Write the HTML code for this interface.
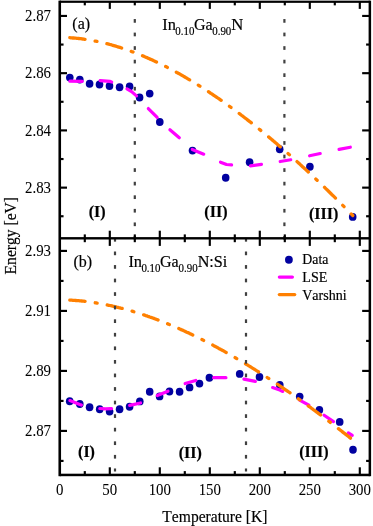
<!DOCTYPE html>
<html><head><meta charset="utf-8"><title>chart</title>
<style>html,body{margin:0;padding:0;background:#fff}body{width:373px;height:526px;overflow:hidden}</style></head>
<body>
<svg width="373" height="526" viewBox="0 0 373 526" style="display:block;will-change:transform;opacity:0.999;font-family:'Liberation Serif',serif;font-kerning:none">
<rect width="373" height="526" fill="#fff"/>
<ellipse cx="69.8" cy="77.60" rx="3.8" ry="3.95" fill="#0000a0"/>
<ellipse cx="79.8" cy="79.60" rx="3.8" ry="3.95" fill="#0000a0"/>
<ellipse cx="89.6" cy="83.80" rx="3.8" ry="3.95" fill="#0000a0"/>
<ellipse cx="99.5" cy="84.50" rx="3.8" ry="3.95" fill="#0000a0"/>
<ellipse cx="109.5" cy="86.00" rx="3.8" ry="3.95" fill="#0000a0"/>
<ellipse cx="119.6" cy="87.20" rx="3.8" ry="3.95" fill="#0000a0"/>
<ellipse cx="129.6" cy="86.40" rx="3.8" ry="3.95" fill="#0000a0"/>
<ellipse cx="139.6" cy="97.50" rx="3.8" ry="3.95" fill="#0000a0"/>
<ellipse cx="149.7" cy="93.60" rx="3.8" ry="3.95" fill="#0000a0"/>
<ellipse cx="159.8" cy="122.00" rx="3.8" ry="3.95" fill="#0000a0"/>
<ellipse cx="192.5" cy="150.60" rx="3.8" ry="3.95" fill="#0000a0"/>
<ellipse cx="225.7" cy="177.70" rx="3.8" ry="3.95" fill="#0000a0"/>
<ellipse cx="249.6" cy="162.30" rx="3.8" ry="3.95" fill="#0000a0"/>
<ellipse cx="279.7" cy="149.20" rx="3.8" ry="3.95" fill="#0000a0"/>
<ellipse cx="309.9" cy="166.80" rx="3.8" ry="3.95" fill="#0000a0"/>
<ellipse cx="352.7" cy="216.90" rx="3.8" ry="3.95" fill="#0000a0"/>
<ellipse cx="69.7" cy="401.30" rx="3.8" ry="3.95" fill="#0000a0"/>
<ellipse cx="79.8" cy="404.00" rx="3.8" ry="3.95" fill="#0000a0"/>
<ellipse cx="89.6" cy="407.20" rx="3.8" ry="3.95" fill="#0000a0"/>
<ellipse cx="99.7" cy="409.30" rx="3.8" ry="3.95" fill="#0000a0"/>
<ellipse cx="109.6" cy="411.60" rx="3.8" ry="3.95" fill="#0000a0"/>
<ellipse cx="119.6" cy="409.20" rx="3.8" ry="3.95" fill="#0000a0"/>
<ellipse cx="129.6" cy="406.70" rx="3.8" ry="3.95" fill="#0000a0"/>
<ellipse cx="139.8" cy="401.40" rx="3.8" ry="3.95" fill="#0000a0"/>
<ellipse cx="149.7" cy="391.80" rx="3.8" ry="3.95" fill="#0000a0"/>
<ellipse cx="159.6" cy="396.40" rx="3.8" ry="3.95" fill="#0000a0"/>
<ellipse cx="169.5" cy="391.50" rx="3.8" ry="3.95" fill="#0000a0"/>
<ellipse cx="179.6" cy="391.70" rx="3.8" ry="3.95" fill="#0000a0"/>
<ellipse cx="189.6" cy="387.40" rx="3.8" ry="3.95" fill="#0000a0"/>
<ellipse cx="199.5" cy="383.60" rx="3.8" ry="3.95" fill="#0000a0"/>
<ellipse cx="209.4" cy="377.80" rx="3.8" ry="3.95" fill="#0000a0"/>
<ellipse cx="239.7" cy="373.90" rx="3.8" ry="3.95" fill="#0000a0"/>
<ellipse cx="259.5" cy="377.00" rx="3.8" ry="3.95" fill="#0000a0"/>
<ellipse cx="279.8" cy="384.90" rx="3.8" ry="3.95" fill="#0000a0"/>
<ellipse cx="299.7" cy="396.60" rx="3.8" ry="3.95" fill="#0000a0"/>
<ellipse cx="319.4" cy="410.00" rx="3.8" ry="3.95" fill="#0000a0"/>
<ellipse cx="339.7" cy="421.90" rx="3.8" ry="3.95" fill="#0000a0"/>
<ellipse cx="353.0" cy="449.80" rx="3.8" ry="3.95" fill="#0000a0"/>
<g fill="none" stroke="#ff00ff" stroke-width="3.2" stroke-linecap="round" stroke-linejoin="round">
<polyline points="69.90,81.21 82.30,81.29"/>
<polyline points="100.19,80.54 109.80,81.40 111.67,81.95"/>
<polyline points="126.97,88.82 131.60,91.60 136.49,95.85"/>
<polyline points="148.33,108.54 157.17,117.46"/>
<polyline points="169.92,129.74 179.28,137.76"/>
<polyline points="192.28,149.42 203.72,154.18"/>
<polyline points="220.49,162.18 226.50,164.50 231.60,164.80"/>
<polyline points="250.39,165.79 261.41,164.31"/>
<polyline points="280.18,161.54 290.72,159.76"/>
<polyline points="309.57,155.77 320.23,153.53"/>
<polyline points="339.07,149.39 350.33,147.21"/>
<polyline points="69.89,400.59 79.80,404.50 81.39,405.06"/>
<polyline points="99.80,408.49 105.50,408.80 111.60,408.64"/>
<polyline points="129.66,405.36 140.54,402.99"/>
<polyline points="157.28,395.50 167.97,391.20"/>
<polyline points="185.14,383.55 195.76,380.45"/>
<polyline points="213.60,377.70 225.90,377.70"/>
<polyline points="243.97,379.11 255.33,381.39"/>
<polyline points="272.61,387.54 279.80,390.10 282.79,391.44"/>
<polyline points="299.60,400.07 308.90,405.13"/>
<polyline points="324.12,415.20 333.48,421.60"/>
<polyline points="348.35,432.86 352.25,435.34"/>
</g>
<polyline points="69.8,37.7 70.8,37.8 71.8,37.9 72.8,38.0 73.8,38.0 74.8,38.1 75.8,38.2 76.8,38.3 77.8,38.4 78.8,38.5 79.8,38.6 80.8,38.7 81.8,38.9 82.8,39.0 83.8,39.1 84.8,39.3 85.8,39.4 86.8,39.6 87.8,39.7 88.8,39.9 89.8,40.1 90.8,40.2 91.8,40.4 92.8,40.6 93.8,40.8 94.8,41.0 95.8,41.2 96.8,41.4 97.8,41.6 98.8,41.8 99.8,42.0 100.8,42.2 101.8,42.5 102.8,42.7 103.8,42.9 104.8,43.2 105.8,43.4 106.8,43.7 107.8,43.9 108.8,44.2 109.8,44.5 110.8,44.7 111.8,45.0 112.8,45.3 113.8,45.6 114.8,45.9 115.8,46.2 116.8,46.5 117.8,46.8 118.8,47.1 119.8,47.4 120.8,47.7 121.8,48.1 122.8,48.4 123.8,48.7 124.8,49.1 125.8,49.4 126.8,49.8 127.8,50.1 128.8,50.5 129.8,50.8 130.8,51.2 131.8,51.6 132.8,51.9 133.8,52.3 134.8,52.7 135.8,53.1 136.8,53.5 137.8,53.9 138.8,54.3 139.8,54.7 140.8,55.1 141.8,55.5 142.8,55.9 143.8,56.3 144.8,56.8 145.8,57.2 146.8,57.6 147.8,58.1 148.8,58.5 149.8,58.9 150.8,59.4 151.8,59.8 152.8,60.3 153.8,60.8 154.8,61.2 155.8,61.7 156.8,62.2 157.8,62.7 158.8,63.1 159.8,63.6 160.8,64.1 161.8,64.6 162.8,65.1 163.8,65.6 164.8,66.1 165.8,66.6 166.8,67.1 167.8,67.7 168.8,68.2 169.8,68.7 170.8,69.2 171.8,69.8 172.8,70.3 173.8,70.8 174.8,71.4 175.8,71.9 176.8,72.5 177.8,73.0 178.8,73.6 179.8,74.1 180.8,74.7 181.8,75.3 182.8,75.8 183.8,76.4 184.8,77.0 185.8,77.6 186.8,78.2 187.8,78.8 188.8,79.4 189.8,80.0 190.8,80.6 191.8,81.2 192.8,81.8 193.8,82.4 194.8,83.0 195.8,83.6 196.8,84.2 197.8,84.9 198.8,85.5 199.8,86.1 200.8,86.7 201.8,87.4 202.8,88.0 203.8,88.7 204.8,89.3 205.8,90.0 206.8,90.6 207.8,91.3 208.8,91.9 209.8,92.6 210.8,93.3 211.8,93.9 212.8,94.6 213.8,95.3 214.8,96.0 215.8,96.6 216.8,97.3 217.8,98.0 218.8,98.7 219.8,99.4 220.8,100.1 221.8,100.8 222.8,101.5 223.8,102.2 224.8,102.9 225.8,103.6 226.8,104.4 227.8,105.1 228.8,105.8 229.8,106.5 230.8,107.3 231.8,108.0 232.8,108.7 233.8,109.5 234.8,110.2 235.8,110.9 236.8,111.7 237.8,112.4 238.8,113.2 239.8,113.9 240.8,114.7 241.8,115.5 242.8,116.2 243.8,117.0 244.8,117.8 245.8,118.5 246.8,119.3 247.8,120.1 248.8,120.9 249.8,121.7 250.8,122.4 251.8,123.2 252.8,124.0 253.8,124.8 254.8,125.6 255.8,126.4 256.8,127.2 257.8,128.0 258.8,128.8 259.8,129.6 260.8,130.4 261.8,131.3 262.8,132.1 263.8,132.9 264.8,133.7 265.8,134.6 266.8,135.4 267.8,136.2 268.8,137.0 269.8,137.9 270.8,138.7 271.8,139.6 272.8,140.4 273.8,141.3 274.8,142.1 275.8,143.0 276.8,143.8 277.8,144.7 278.8,145.5 279.8,146.4 280.8,147.3 281.8,148.1 282.8,149.0 283.8,149.9 284.8,150.7 285.8,151.6 286.8,152.5 287.8,153.4 288.8,154.3 289.8,155.1 290.8,156.0 291.8,156.9 292.8,157.8 293.8,158.7 294.8,159.6 295.8,160.5 296.8,161.4 297.8,162.3 298.8,163.2 299.8,164.1 300.8,165.1 301.8,166.0 302.8,166.9 303.8,167.8 304.8,168.7 305.8,169.7 306.8,170.6 307.8,171.5 308.8,172.4 309.8,173.4 310.8,174.3 311.8,175.2 312.8,176.2 313.8,177.1 314.8,178.1 315.8,179.0 316.8,180.0 317.8,180.9 318.8,181.9 319.8,182.8 320.8,183.8 321.8,184.7 322.8,185.7 323.8,186.7 324.8,187.6 325.8,188.6 326.8,189.6 327.8,190.5 328.8,191.5 329.8,192.5 330.8,193.5 331.8,194.5 332.8,195.4 333.8,196.4 334.8,197.4 335.8,198.4 336.8,199.4 337.8,200.4 338.8,201.4 339.8,202.4 340.8,203.4 341.8,204.4 342.8,205.4 343.8,206.4 344.8,207.4 345.8,208.4 346.8,209.4 347.8,210.4 348.8,211.4 349.8,212.5 350.8,213.5 351.8,214.5 352.8,215.5" fill="none" stroke="#ff8000" stroke-width="3.3" stroke-linecap="round" stroke-linejoin="round" stroke-dasharray="15.35 10.2 1.9 10.2"/>
<polyline points="69.8,300.1 70.8,300.2 71.8,300.2 72.8,300.3 73.8,300.4 74.8,300.4 75.8,300.5 76.8,300.6 77.8,300.7 78.8,300.7 79.8,300.8 80.8,300.9 81.8,301.0 82.8,301.1 83.8,301.2 84.8,301.4 85.8,301.5 86.8,301.6 87.8,301.7 88.8,301.8 89.8,302.0 90.8,302.1 91.8,302.3 92.8,302.4 93.8,302.5 94.8,302.7 95.8,302.9 96.8,303.0 97.8,303.2 98.8,303.4 99.8,303.5 100.8,303.7 101.8,303.9 102.8,304.1 103.8,304.3 104.8,304.5 105.8,304.7 106.8,304.9 107.8,305.1 108.8,305.3 109.8,305.5 110.8,305.7 111.8,305.9 112.8,306.2 113.8,306.4 114.8,306.6 115.8,306.8 116.8,307.1 117.8,307.3 118.8,307.6 119.8,307.8 120.8,308.1 121.8,308.3 122.8,308.6 123.8,308.9 124.8,309.1 125.8,309.4 126.8,309.7 127.8,310.0 128.8,310.2 129.8,310.5 130.8,310.8 131.8,311.1 132.8,311.4 133.8,311.7 134.8,312.0 135.8,312.3 136.8,312.6 137.8,312.9 138.8,313.3 139.8,313.6 140.8,313.9 141.8,314.2 142.8,314.6 143.8,314.9 144.8,315.2 145.8,315.6 146.8,315.9 147.8,316.3 148.8,316.6 149.8,317.0 150.8,317.3 151.8,317.7 152.8,318.0 153.8,318.4 154.8,318.8 155.8,319.2 156.8,319.5 157.8,319.9 158.8,320.3 159.8,320.7 160.8,321.1 161.8,321.5 162.8,321.8 163.8,322.2 164.8,322.6 165.8,323.0 166.8,323.4 167.8,323.9 168.8,324.3 169.8,324.7 170.8,325.1 171.8,325.5 172.8,325.9 173.8,326.4 174.8,326.8 175.8,327.2 176.8,327.7 177.8,328.1 178.8,328.5 179.8,329.0 180.8,329.4 181.8,329.9 182.8,330.3 183.8,330.8 184.8,331.2 185.8,331.7 186.8,332.2 187.8,332.6 188.8,333.1 189.8,333.6 190.8,334.0 191.8,334.5 192.8,335.0 193.8,335.5 194.8,336.0 195.8,336.5 196.8,336.9 197.8,337.4 198.8,337.9 199.8,338.4 200.8,338.9 201.8,339.4 202.8,339.9 203.8,340.5 204.8,341.0 205.8,341.5 206.8,342.0 207.8,342.5 208.8,343.0 209.8,343.6 210.8,344.1 211.8,344.6 212.8,345.1 213.8,345.7 214.8,346.2 215.8,346.7 216.8,347.3 217.8,347.8 218.8,348.4 219.8,348.9 220.8,349.5 221.8,350.0 222.8,350.6 223.8,351.1 224.8,351.7 225.8,352.3 226.8,352.8 227.8,353.4 228.8,354.0 229.8,354.5 230.8,355.1 231.8,355.7 232.8,356.3 233.8,356.8 234.8,357.4 235.8,358.0 236.8,358.6 237.8,359.2 238.8,359.8 239.8,360.4 240.8,361.0 241.8,361.6 242.8,362.2 243.8,362.8 244.8,363.4 245.8,364.0 246.8,364.6 247.8,365.2 248.8,365.8 249.8,366.4 250.8,367.0 251.8,367.7 252.8,368.3 253.8,368.9 254.8,369.5 255.8,370.2 256.8,370.8 257.8,371.4 258.8,372.1 259.8,372.7 260.8,373.3 261.8,374.0 262.8,374.6 263.8,375.3 264.8,375.9 265.8,376.6 266.8,377.2 267.8,377.9 268.8,378.5 269.8,379.2 270.8,379.8 271.8,380.5 272.8,381.2 273.8,381.8 274.8,382.5 275.8,383.2 276.8,383.8 277.8,384.5 278.8,385.2 279.8,385.9 280.8,386.5 281.8,387.2 282.8,387.9 283.8,388.6 284.8,389.3 285.8,390.0 286.8,390.6 287.8,391.3 288.8,392.0 289.8,392.7 290.8,393.4 291.8,394.1 292.8,394.8 293.8,395.5 294.8,396.2 295.8,396.9 296.8,397.6 297.8,398.4 298.8,399.1 299.8,399.8 300.8,400.5 301.8,401.2 302.8,401.9 303.8,402.6 304.8,403.4 305.8,404.1 306.8,404.8 307.8,405.5 308.8,406.3 309.8,407.0 310.8,407.7 311.8,408.5 312.8,409.2 313.8,410.0 314.8,410.7 315.8,411.4 316.8,412.2 317.8,412.9 318.8,413.7 319.8,414.4 320.8,415.2 321.8,415.9 322.8,416.7 323.8,417.4 324.8,418.2 325.8,418.9 326.8,419.7 327.8,420.5 328.8,421.2 329.8,422.0 330.8,422.8 331.8,423.5 332.8,424.3 333.8,425.1 334.8,425.8 335.8,426.6 336.8,427.4 337.8,428.2 338.8,428.9 339.8,429.7 340.8,430.5 341.8,431.3 342.8,432.1 343.8,432.9 344.8,433.6 345.8,434.4 346.8,435.2 347.8,436.0 348.8,436.8 349.8,437.6 350.8,438.4 351.8,439.2 352.8,440.0" fill="none" stroke="#ff8000" stroke-width="3.3" stroke-linecap="round" stroke-linejoin="round" stroke-dasharray="15.35 10.27 1.9 10.27"/>
<rect x="133.70" y="19.05" width="2.2" height="3.70" fill="#404040"/>
<rect x="133.70" y="32.61" width="2.2" height="3.70" fill="#404040"/>
<rect x="133.70" y="46.17" width="2.2" height="3.70" fill="#404040"/>
<rect x="133.70" y="59.73" width="2.2" height="3.70" fill="#404040"/>
<rect x="133.70" y="73.29" width="2.2" height="3.70" fill="#404040"/>
<rect x="133.70" y="86.85" width="2.2" height="3.70" fill="#404040"/>
<rect x="133.70" y="100.41" width="2.2" height="3.70" fill="#404040"/>
<rect x="133.70" y="113.97" width="2.2" height="3.70" fill="#404040"/>
<rect x="133.70" y="127.53" width="2.2" height="3.70" fill="#404040"/>
<rect x="133.70" y="141.09" width="2.2" height="3.70" fill="#404040"/>
<rect x="133.70" y="154.65" width="2.2" height="3.70" fill="#404040"/>
<rect x="133.70" y="168.21" width="2.2" height="3.70" fill="#404040"/>
<rect x="133.70" y="181.77" width="2.2" height="3.70" fill="#404040"/>
<rect x="133.70" y="195.33" width="2.2" height="3.70" fill="#404040"/>
<rect x="133.70" y="208.89" width="2.2" height="3.70" fill="#404040"/>
<rect x="133.70" y="222.45" width="2.2" height="3.70" fill="#404040"/>
<rect x="133.70" y="236.01" width="2.2" height="3.70" fill="#404040"/>
<rect x="283.30" y="19.05" width="2.2" height="3.70" fill="#404040"/>
<rect x="283.30" y="32.61" width="2.2" height="3.70" fill="#404040"/>
<rect x="283.30" y="46.17" width="2.2" height="3.70" fill="#404040"/>
<rect x="283.30" y="59.73" width="2.2" height="3.70" fill="#404040"/>
<rect x="283.30" y="73.29" width="2.2" height="3.70" fill="#404040"/>
<rect x="283.30" y="86.85" width="2.2" height="3.70" fill="#404040"/>
<rect x="283.30" y="100.41" width="2.2" height="3.70" fill="#404040"/>
<rect x="283.30" y="113.97" width="2.2" height="3.70" fill="#404040"/>
<rect x="283.30" y="127.53" width="2.2" height="3.70" fill="#404040"/>
<rect x="283.30" y="141.09" width="2.2" height="3.70" fill="#404040"/>
<rect x="283.30" y="154.65" width="2.2" height="3.70" fill="#404040"/>
<rect x="283.30" y="168.21" width="2.2" height="3.70" fill="#404040"/>
<rect x="283.30" y="181.77" width="2.2" height="3.70" fill="#404040"/>
<rect x="283.30" y="195.33" width="2.2" height="3.70" fill="#404040"/>
<rect x="283.30" y="208.89" width="2.2" height="3.70" fill="#404040"/>
<rect x="283.30" y="222.45" width="2.2" height="3.70" fill="#404040"/>
<rect x="283.30" y="236.01" width="2.2" height="3.70" fill="#404040"/>
<rect x="113.90" y="237.95" width="2.2" height="3.70" fill="#404040"/>
<rect x="113.90" y="251.51" width="2.2" height="3.70" fill="#404040"/>
<rect x="113.90" y="265.07" width="2.2" height="3.70" fill="#404040"/>
<rect x="113.90" y="278.63" width="2.2" height="3.70" fill="#404040"/>
<rect x="113.90" y="292.19" width="2.2" height="3.70" fill="#404040"/>
<rect x="113.90" y="305.75" width="2.2" height="3.70" fill="#404040"/>
<rect x="113.90" y="319.31" width="2.2" height="3.70" fill="#404040"/>
<rect x="113.90" y="332.87" width="2.2" height="3.70" fill="#404040"/>
<rect x="113.90" y="346.43" width="2.2" height="3.70" fill="#404040"/>
<rect x="113.90" y="359.99" width="2.2" height="3.70" fill="#404040"/>
<rect x="113.90" y="373.55" width="2.2" height="3.70" fill="#404040"/>
<rect x="113.90" y="387.11" width="2.2" height="3.70" fill="#404040"/>
<rect x="113.90" y="400.67" width="2.2" height="3.70" fill="#404040"/>
<rect x="113.90" y="414.23" width="2.2" height="3.70" fill="#404040"/>
<rect x="113.90" y="427.79" width="2.2" height="3.70" fill="#404040"/>
<rect x="113.90" y="441.35" width="2.2" height="3.70" fill="#404040"/>
<rect x="113.90" y="454.91" width="2.2" height="3.70" fill="#404040"/>
<rect x="113.90" y="468.47" width="2.2" height="3.03" fill="#404040"/>
<rect x="244.90" y="237.95" width="2.2" height="3.70" fill="#404040"/>
<rect x="244.90" y="251.51" width="2.2" height="3.70" fill="#404040"/>
<rect x="244.90" y="265.07" width="2.2" height="3.70" fill="#404040"/>
<rect x="244.90" y="278.63" width="2.2" height="3.70" fill="#404040"/>
<rect x="244.90" y="292.19" width="2.2" height="3.70" fill="#404040"/>
<rect x="244.90" y="305.75" width="2.2" height="3.70" fill="#404040"/>
<rect x="244.90" y="319.31" width="2.2" height="3.70" fill="#404040"/>
<rect x="244.90" y="332.87" width="2.2" height="3.70" fill="#404040"/>
<rect x="244.90" y="346.43" width="2.2" height="3.70" fill="#404040"/>
<rect x="244.90" y="359.99" width="2.2" height="3.70" fill="#404040"/>
<rect x="244.90" y="373.55" width="2.2" height="3.70" fill="#404040"/>
<rect x="244.90" y="387.11" width="2.2" height="3.70" fill="#404040"/>
<rect x="244.90" y="400.67" width="2.2" height="3.70" fill="#404040"/>
<rect x="244.90" y="414.23" width="2.2" height="3.70" fill="#404040"/>
<rect x="244.90" y="427.79" width="2.2" height="3.70" fill="#404040"/>
<rect x="244.90" y="441.35" width="2.2" height="3.70" fill="#404040"/>
<rect x="244.90" y="454.91" width="2.2" height="3.70" fill="#404040"/>
<rect x="244.90" y="468.47" width="2.2" height="3.03" fill="#404040"/>
<g fill="#000">
<rect x="58.45" y="0.65" width="2.6" height="475.55"/>
<rect x="368.60" y="0.65" width="2.5" height="475.55"/>
<rect x="59.75" y="0.65" width="310.10" height="2.2"/>
<rect x="59.75" y="473.7" width="310.10" height="2.5"/>
<rect x="59.75" y="237.10" width="310.10" height="2.4"/>
</g>
<g stroke="#000" stroke-width="2.15" fill="none">
<line x1="84.8" y1="1.45" x2="84.8" y2="5.35"/>
<line x1="84.8" y1="234.40" x2="84.8" y2="242.20"/>
<line x1="84.8" y1="471.1" x2="84.8" y2="474.75"/>
<line x1="109.8" y1="1.45" x2="109.8" y2="8.9"/>
<line x1="109.8" y1="230.70" x2="109.8" y2="245.90"/>
<line x1="109.8" y1="467.3" x2="109.8" y2="474.75"/>
<line x1="134.8" y1="1.45" x2="134.8" y2="5.35"/>
<line x1="134.8" y1="234.40" x2="134.8" y2="242.20"/>
<line x1="134.8" y1="471.1" x2="134.8" y2="474.75"/>
<line x1="159.8" y1="1.45" x2="159.8" y2="8.9"/>
<line x1="159.8" y1="230.70" x2="159.8" y2="245.90"/>
<line x1="159.8" y1="467.3" x2="159.8" y2="474.75"/>
<line x1="184.8" y1="1.45" x2="184.8" y2="5.35"/>
<line x1="184.8" y1="234.40" x2="184.8" y2="242.20"/>
<line x1="184.8" y1="471.1" x2="184.8" y2="474.75"/>
<line x1="209.8" y1="1.45" x2="209.8" y2="8.9"/>
<line x1="209.8" y1="230.70" x2="209.8" y2="245.90"/>
<line x1="209.8" y1="467.3" x2="209.8" y2="474.75"/>
<line x1="234.8" y1="1.45" x2="234.8" y2="5.35"/>
<line x1="234.8" y1="234.40" x2="234.8" y2="242.20"/>
<line x1="234.8" y1="471.1" x2="234.8" y2="474.75"/>
<line x1="259.8" y1="1.45" x2="259.8" y2="8.9"/>
<line x1="259.8" y1="230.70" x2="259.8" y2="245.90"/>
<line x1="259.8" y1="467.3" x2="259.8" y2="474.75"/>
<line x1="284.8" y1="1.45" x2="284.8" y2="5.35"/>
<line x1="284.8" y1="234.40" x2="284.8" y2="242.20"/>
<line x1="284.8" y1="471.1" x2="284.8" y2="474.75"/>
<line x1="309.8" y1="1.45" x2="309.8" y2="8.9"/>
<line x1="309.8" y1="230.70" x2="309.8" y2="245.90"/>
<line x1="309.8" y1="467.3" x2="309.8" y2="474.75"/>
<line x1="334.8" y1="1.45" x2="334.8" y2="5.35"/>
<line x1="334.8" y1="234.40" x2="334.8" y2="242.20"/>
<line x1="334.8" y1="471.1" x2="334.8" y2="474.75"/>
<line x1="359.8" y1="1.45" x2="359.8" y2="8.9"/>
<line x1="359.8" y1="230.70" x2="359.8" y2="245.90"/>
<line x1="359.8" y1="467.3" x2="359.8" y2="474.75"/>
<line x1="59.75" y1="15.95" x2="67.0" y2="15.95"/>
<line x1="362.15" y1="15.95" x2="369.85" y2="15.95"/>
<line x1="59.75" y1="73.18" x2="67.0" y2="73.18"/>
<line x1="362.15" y1="73.18" x2="369.85" y2="73.18"/>
<line x1="59.75" y1="130.41" x2="67.0" y2="130.41"/>
<line x1="362.15" y1="130.41" x2="369.85" y2="130.41"/>
<line x1="59.75" y1="187.64" x2="67.0" y2="187.64"/>
<line x1="362.15" y1="187.64" x2="369.85" y2="187.64"/>
<line x1="59.75" y1="250.90" x2="67.0" y2="250.90"/>
<line x1="362.15" y1="250.90" x2="369.85" y2="250.90"/>
<line x1="59.75" y1="310.90" x2="67.0" y2="310.90"/>
<line x1="362.15" y1="310.90" x2="369.85" y2="310.90"/>
<line x1="59.75" y1="370.90" x2="67.0" y2="370.90"/>
<line x1="362.15" y1="370.90" x2="369.85" y2="370.90"/>
<line x1="59.75" y1="430.90" x2="67.0" y2="430.90"/>
<line x1="362.15" y1="430.90" x2="369.85" y2="430.90"/>
<line x1="59.75" y1="44.56" x2="63.55" y2="44.56"/>
<line x1="366.1" y1="44.56" x2="369.85" y2="44.56"/>
<line x1="59.75" y1="101.79" x2="63.55" y2="101.79"/>
<line x1="366.1" y1="101.79" x2="369.85" y2="101.79"/>
<line x1="59.75" y1="159.03" x2="63.55" y2="159.03"/>
<line x1="366.1" y1="159.03" x2="369.85" y2="159.03"/>
<line x1="59.75" y1="216.25" x2="63.55" y2="216.25"/>
<line x1="366.1" y1="216.25" x2="369.85" y2="216.25"/>
<line x1="59.75" y1="280.90" x2="63.55" y2="280.90"/>
<line x1="366.1" y1="280.90" x2="369.85" y2="280.90"/>
<line x1="59.75" y1="340.90" x2="63.55" y2="340.90"/>
<line x1="366.1" y1="340.90" x2="369.85" y2="340.90"/>
<line x1="59.75" y1="400.90" x2="63.55" y2="400.90"/>
<line x1="366.1" y1="400.90" x2="369.85" y2="400.90"/>
<line x1="59.75" y1="460.90" x2="63.55" y2="460.90"/>
<line x1="366.1" y1="460.90" x2="369.85" y2="460.90"/>
</g>
<text transform="translate(51.05,21.05) scale(0.895,1.0)" font-size="16.6px" text-anchor="end" stroke="#000" stroke-width="0.050">2.87</text>
<text transform="translate(51.05,78.28) scale(0.895,1.0)" font-size="16.6px" text-anchor="end" stroke="#000" stroke-width="0.050">2.86</text>
<text transform="translate(51.05,135.51) scale(0.895,1.0)" font-size="16.6px" text-anchor="end" stroke="#000" stroke-width="0.050">2.84</text>
<text transform="translate(51.05,192.74) scale(0.895,1.0)" font-size="16.6px" text-anchor="end" stroke="#000" stroke-width="0.050">2.83</text>
<text transform="translate(51.05,256.0) scale(0.895,1.0)" font-size="16.6px" text-anchor="end" stroke="#000" stroke-width="0.050">2.93</text>
<text transform="translate(51.05,316.0) scale(0.895,1.0)" font-size="16.6px" text-anchor="end" stroke="#000" stroke-width="0.050">2.91</text>
<text transform="translate(51.05,376.0) scale(0.895,1.0)" font-size="16.6px" text-anchor="end" stroke="#000" stroke-width="0.050">2.89</text>
<text transform="translate(51.05,436.0) scale(0.895,1.0)" font-size="16.6px" text-anchor="end" stroke="#000" stroke-width="0.050">2.87</text>
<text transform="translate(59.8,494.8) scale(0.895,1.0)" font-size="16.6px" text-anchor="middle" stroke="#000" stroke-width="0.050">0</text>
<text transform="translate(109.8,494.8) scale(0.895,1.0)" font-size="16.6px" text-anchor="middle" stroke="#000" stroke-width="0.050">50</text>
<text transform="translate(159.8,494.8) scale(0.895,1.0)" font-size="16.6px" text-anchor="middle" stroke="#000" stroke-width="0.050">100</text>
<text transform="translate(209.8,494.8) scale(0.895,1.0)" font-size="16.6px" text-anchor="middle" stroke="#000" stroke-width="0.050">150</text>
<text transform="translate(259.8,494.8) scale(0.895,1.0)" font-size="16.6px" text-anchor="middle" stroke="#000" stroke-width="0.050">200</text>
<text transform="translate(309.8,494.8) scale(0.895,1.0)" font-size="16.6px" text-anchor="middle" stroke="#000" stroke-width="0.050">250</text>
<text transform="translate(359.8,494.8) scale(0.895,1.0)" font-size="16.6px" text-anchor="middle" stroke="#000" stroke-width="0.050">300</text>
<text transform="translate(214.9,521.6) scale(0.918,1.0)" font-size="17px" text-anchor="middle" stroke="#000" stroke-width="0.180">Temperature [K]</text>
<text transform="translate(15.6,235.7) rotate(-90) scale(0.918,1.0)" font-size="17px" text-anchor="middle" stroke="#000" stroke-width="0.180">Energy [eV]</text>
<text transform="translate(72.3,28.5)" font-size="16px" text-anchor="start" stroke="#000" stroke-width="0.180">(a)</text>
<text transform="translate(73.4,267.0)" font-size="16px" text-anchor="start" stroke="#000" stroke-width="0.180">(b)</text>
<text transform="translate(162.3,29.65) scale(1.02,1.0)" font-size="16px" text-anchor="start" stroke="#000" stroke-width="0.180">In</text>
<text transform="translate(175.3,34.6) scale(0.913,1.0)" font-size="11.95px" text-anchor="start" stroke="#000" stroke-width="0.180">0.10</text>
<text transform="translate(193.9,29.65)" font-size="16px" text-anchor="start" stroke="#000" stroke-width="0.180">Ga</text>
<text transform="translate(212.2,34.6) scale(0.913,1.0)" font-size="11.95px" text-anchor="start" stroke="#000" stroke-width="0.180">0.90</text>
<text transform="translate(231.3,29.65) scale(1.045,1.0)" font-size="16px" text-anchor="start" stroke="#000" stroke-width="0.180">N</text>
<text transform="translate(128.4,266.95) scale(1.02,1.0)" font-size="16px" text-anchor="start" stroke="#000" stroke-width="0.180">In</text>
<text transform="translate(141.4,271.9) scale(0.913,1.0)" font-size="11.95px" text-anchor="start" stroke="#000" stroke-width="0.180">0.10</text>
<text transform="translate(160.0,266.95)" font-size="16px" text-anchor="start" stroke="#000" stroke-width="0.180">Ga</text>
<text transform="translate(178.6,271.9) scale(0.913,1.0)" font-size="11.95px" text-anchor="start" stroke="#000" stroke-width="0.180">0.90</text>
<text transform="translate(197.7,266.95) scale(1.01,1.0)" font-size="16px" text-anchor="start" stroke="#000" stroke-width="0.180">N:Si</text>
<text transform="translate(97.2,217)" font-size="16px" text-anchor="middle" font-weight="bold" stroke="#000" stroke-width="0.180">(I)</text>
<text transform="translate(215.9,216.6)" font-size="16px" text-anchor="middle" font-weight="bold" stroke="#000" stroke-width="0.180">(II)</text>
<text transform="translate(323.6,219.1)" font-size="16px" text-anchor="middle" font-weight="bold" stroke="#000" stroke-width="0.180">(III)</text>
<text transform="translate(86.5,457)" font-size="16px" text-anchor="middle" font-weight="bold" stroke="#000" stroke-width="0.180">(I)</text>
<text transform="translate(190.3,457.6)" font-size="16px" text-anchor="middle" font-weight="bold" stroke="#000" stroke-width="0.180">(II)</text>
<text transform="translate(313.8,457.0)" font-size="16px" text-anchor="middle" font-weight="bold" stroke="#000" stroke-width="0.180">(III)</text>
<ellipse cx="288.9" cy="259.75" rx="3.9" ry="4.1000000000000005" fill="#0000a0"/>
<line x1="279.35" y1="277.1" x2="292.4" y2="277.1" stroke="#ff00ff" stroke-width="3.2" stroke-linecap="round"/>
<line x1="279.35" y1="294.6" x2="294.7" y2="294.6" stroke="#ff8000" stroke-width="3.3" stroke-linecap="round"/>
<text transform="translate(302.3,264.1)" font-size="13.8px" text-anchor="start" stroke="#000" stroke-width="0.180">Data</text>
<text transform="translate(302.3,282.2) scale(1.02,1.0)" font-size="13.8px" text-anchor="start" stroke="#000" stroke-width="0.180">LSE</text>
<text transform="translate(302.2,300.1) scale(1.02,1.0)" font-size="13.8px" text-anchor="start" stroke="#000" stroke-width="0.180">Varshni</text>
</svg>
</body></html>
